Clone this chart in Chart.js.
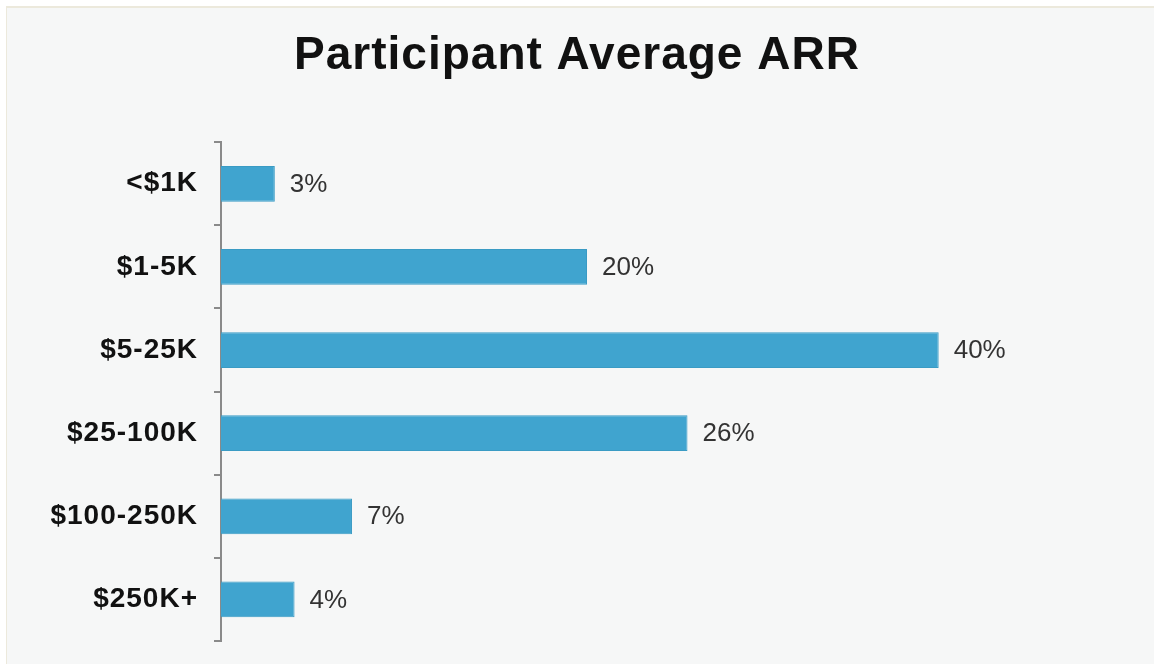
<!DOCTYPE html>
<html>
<head>
<meta charset="utf-8">
<script src="https://cdn.jsdelivr.net/npm/chart.js@4"></script>
<style>
    html, body { margin: 0; padding: 0; background: #ffffff; }
    #panel {
        position: absolute; left: 6px; top: 6px; width: 1148px; height: 658px;
        background: #f6f7f7; border-top: 2px solid #ece9dc; border-left: 1px solid #ece9dc;
    }
    #wrap { position: absolute; left: 0; top: 0; width: 1154px; height: 664px; }
</style>
</head>
<body>
<div id="panel"></div>
<div id="wrap"><canvas id="arrChart" width="1154" height="664"></canvas></div>
<script>
const categories = ['<$1K', '$1-5K', '$5-25K', '$25-100K', '$100-250K', '$250K+'];
const shares = [3, 20.4, 40, 26, 7.3, 4.1];
const shareLabels = ['3%', '20%', '40%', '26%', '7%', '4%'];

// the original text is set slightly wide
const wideText = {
    id: 'wideText',
    beforeUpdate(chart) { chart.ctx.letterSpacing = '1px'; },
    beforeDraw(chart) { chart.ctx.letterSpacing = '1px'; }
};

// draws the % text just past the end of each bar
const barLabels = {
    id: 'barLabels',
    afterDatasetsDraw(chart) {
        const ctx = chart.ctx;
        const meta = chart.getDatasetMeta(0);
        ctx.save();
        ctx.letterSpacing = '0px';
        ctx.fillStyle = '#333333';
        ctx.font = "26px 'Liberation Sans', Arial, sans-serif";
        ctx.textAlign = 'left';
        ctx.textBaseline = 'middle';
        meta.data.forEach((bar, i) => {
            ctx.fillText(shareLabels[i], bar.x + 15, bar.y + 1);
        });
        ctx.restore();
    }
};

new Chart(document.getElementById('arrChart').getContext('2d'), {
    type: 'bar',
    data: {
        labels: categories,
        datasets: [{
            data: shares,
            backgroundColor: '#40a4cf',
            borderColor: '#3a9bc4',
            borderWidth: 1,
            categoryPercentage: 0.86,
            barPercentage: 0.5
        }]
    },
    options: {
        indexAxis: 'y',
        responsive: false,
        animation: false,
        layout: { padding: { top: 0, bottom: 23, left: 0, right: 0 } },
        plugins: {
            legend: { display: false },
            tooltip: { enabled: false },
            title: {
                display: true,
                text: 'Participant Average ARR',
                color: '#111111',
                font: { family: "'Liberation Sans', Arial, sans-serif", size: 46, weight: 'bold' },
                padding: { top: 29, bottom: 58 }
            }
        },
        scales: {
            x: {
                display: false,
                min: 0,
                max: 52
            },
            y: {
                afterFit(scale) {
                    scale.width = 221;
                    scale.paddingTop = 0;
                    scale.paddingBottom = 0;
                },
                border: { display: true, color: '#8a8a8a', width: 2 },
                grid: {
                    offset: true,
                    drawOnChartArea: false,
                    drawTicks: true,
                    tickLength: 7,
                    color: '#8a8a8a',
                    lineWidth: 2
                },
                ticks: {
                    color: '#111111',
                    padding: 16,
                    font: { family: "'Liberation Sans', Arial, sans-serif", size: 28, weight: 'bold' }
                }
            }
        }
    },
    plugins: [wideText, barLabels]
});
</script>
</body>
</html>
